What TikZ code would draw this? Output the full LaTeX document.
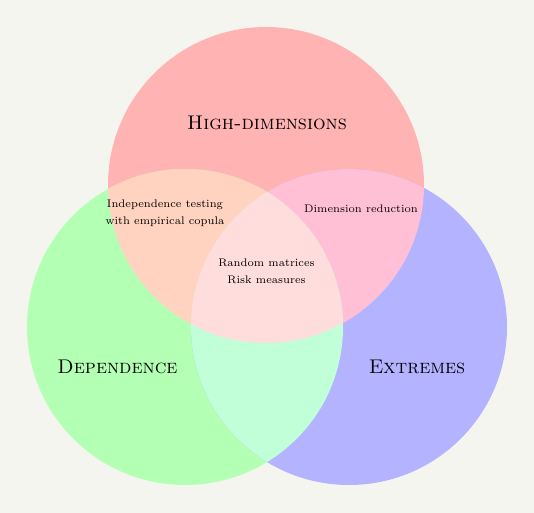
\documentclass[tikz,border=0pt]{standalone}
\begin{document}
\begin{tikzpicture}[x=0.54pt,y=-0.54pt,
  setlabel/.style={font=\fontsize{10.7}{12.8}\selectfont\scshape},
  itemlabel/.style={font=\fontsize{7}{10.8}\selectfont, align=center, scale=0.85}]
\definecolor{bgc}{HTML}{F5F5F0}
\definecolor{colH}{HTML}{FFB3B3}
\definecolor{colD}{HTML}{B3FFB3}
\definecolor{colE}{HTML}{B3B3FF}
\definecolor{colHD}{HTML}{FFD3C0}
\definecolor{colHE}{HTML}{FFC0D6}
\definecolor{colDE}{HTML}{C0FFD8}
\definecolor{colHDE}{HTML}{FFDDDD}
\def\rad{158}
% canvas
\fill[bgc] (0,0) rectangle (534,513);
\useasboundingbox (0,0) rectangle (534,513);
% circle centres
\coordinate (cH) at (266,185);
\coordinate (cD) at (185,327);
\coordinate (cE) at (349,327);
% single sets
\fill[colH] (cH) circle (\rad);
\fill[colD] (cD) circle (\rad);
\fill[colE] (cE) circle (\rad);
% pairwise overlaps
\begin{scope}
  \clip (cH) circle (\rad);
  \fill[colHD] (cD) circle (\rad);
  \fill[colHE] (cE) circle (\rad);
\end{scope}
\begin{scope}
  \clip (cD) circle (\rad);
  \fill[colDE] (cE) circle (\rad);
\end{scope}
% triple overlap
\begin{scope}
  \clip (cH) circle (\rad);
  \clip (cD) circle (\rad);
  \fill[colHDE] (cE) circle (\rad);
\end{scope}
% labels
\node[setlabel] (high) at (267,123) {High-dimensions};
\node[setlabel] (dep) at (117.5,367) {Dependence};
\node[setlabel] (ext) at (417,367) {Extremes};
\node[itemlabel] (indep) at (165,213) {Independence testing\\with empirical copula};
\node[itemlabel] (dimred) at (361,209) {Dimension reduction};
\node[itemlabel] (center) at (266.5,271) {Random matrices\\Risk measures};
\end{tikzpicture}
\end{document}
